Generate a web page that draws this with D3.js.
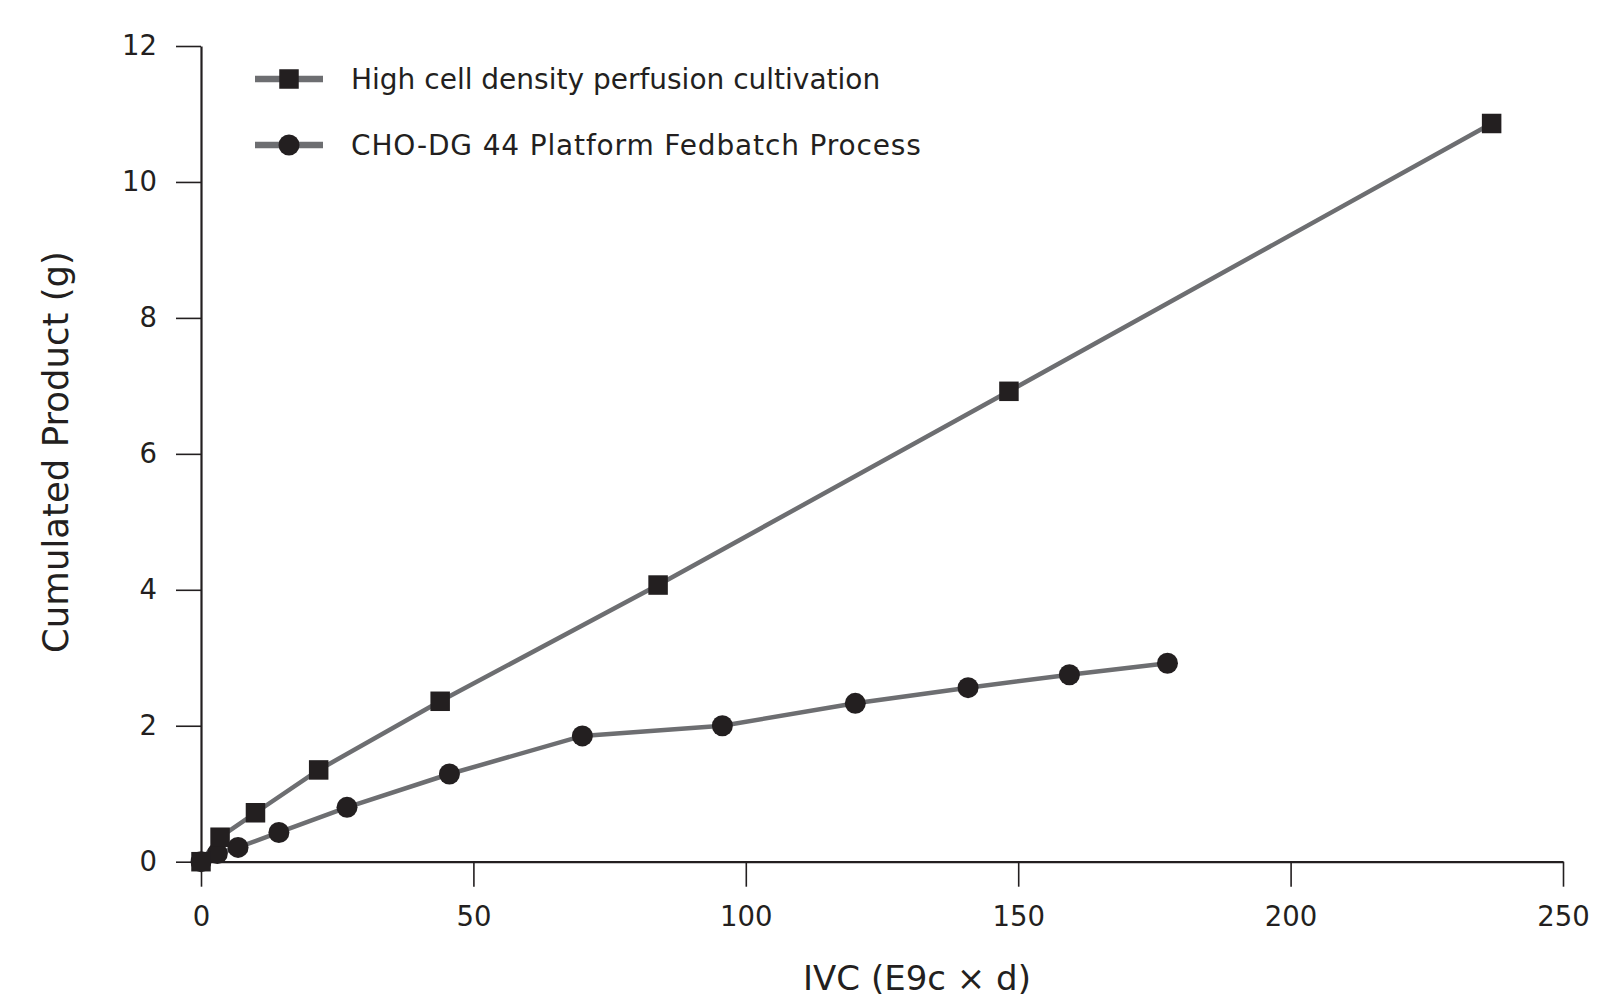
<!DOCTYPE html>
<html>
<head>
<meta charset="utf-8">
<script src="https://cdn.jsdelivr.net/npm/d3@7"></script>
<style>
html,body{margin:0;padding:0;background:#fff;}
svg{display:block;}
text{font-family:"DejaVu Sans","Open Sans",sans-serif;fill:#231f20;}
</style>
</head>
<body>
<svg id="chart" width="1601" height="1001"></svg>
<script>
// ---- data ----
const perfusionX = [0, 3.5, 10, 21.6, 43.9, 83.9, 148.3, 236.9];
const perfusionY = [0, 0.36, 0.72, 1.35, 2.36, 4.07, 6.92, 10.86];
const fedbatchX = [0, 3.0, 6.8, 14.3, 26.8, 45.6, 70.0, 95.7, 120.1, 140.8, 159.4, 177.4];
const fedbatchY = [0, 0.12, 0.21, 0.43, 0.80, 1.29, 1.85, 2.00, 2.33, 2.56, 2.75, 2.92];
const xTicks = [0, 50, 100, 150, 200, 250];
const yTicks = [0, 2, 4, 6, 8, 10, 12];
const seriesNames = ["High cell density perfusion cultivation", "CHO-DG 44 Platform Fedbatch Process"];
const xTitle = "IVC (E9c × d)";
const yTitle = "Cumulated Product (g)";

const svg = d3.select("#chart");
const dark = "#231f20", lineGray = "#6d6e71";
const FONT = "'DejaVu Sans', 'Open Sans', sans-serif";

const x = d3.scaleLinear().domain([0, 250]).range([201, 1563]);
const y = d3.scaleLinear().domain([0, 12]).range([861.7, 46]);

// axes
const xAxis = d3.axisBottom(x).tickValues(xTicks).tickSize(25).tickPadding(20).tickSizeOuter(0);
const yAxis = d3.axisLeft(y).tickValues(yTicks).tickSize(25).tickPadding(19).tickSizeOuter(0);

const gx = svg.append("g").attr("transform", `translate(0,${y(0)})`).call(xAxis);
const gy = svg.append("g").attr("transform", `translate(${x(0)},0)`).call(yAxis);
[gx, gy].forEach(g => {
  g.select(".domain").attr("stroke", dark).attr("stroke-width", 2.2);
  g.selectAll(".tick line").attr("stroke", dark).attr("stroke-width", 1.6);
  g.selectAll(".tick text").attr("font-size", 27.5).attr("fill", dark)
    .style("font-family", FONT);
});
gx.selectAll(".tick text").attr("dy", "0.71em");

// titles
svg.append("text").attr("x", 917).attr("y", 990).attr("text-anchor", "middle")
  .attr("font-size", 34).text(xTitle);
svg.append("text").attr("transform", "translate(68,452) rotate(-90)").attr("text-anchor", "middle")
  .attr("font-size", 35.5).text(yTitle);

const line = d3.line().x(d => x(d[0])).y(d => y(d[1]));
const perf = perfusionX.map((v, i) => [v, perfusionY[i]]);
const fed = fedbatchX.map((v, i) => [v, fedbatchY[i]]);

svg.append("path").datum(fed).attr("d", line).attr("fill", "none")
  .attr("stroke", lineGray).attr("stroke-width", 4.5);
svg.append("path").datum(perf).attr("d", line).attr("fill", "none")
  .attr("stroke", lineGray).attr("stroke-width", 4.5);
svg.selectAll("circle.fed").data(fed).enter().append("circle").attr("class", "fed")
  .attr("cx", d => x(d[0])).attr("cy", d => y(d[1])).attr("r", 10.5).attr("fill", dark);
const sq = 19.5;
svg.selectAll("rect.perf").data(perf).enter().append("rect").attr("class", "perf")
  .attr("x", d => x(d[0]) - sq / 2).attr("y", d => y(d[1]) - sq / 2)
  .attr("width", sq).attr("height", sq).attr("fill", dark);

// legend
const legY = [79, 145];
const legSpacing = [0, 0.85];
const leg = svg.append("g");
legY.forEach((ly, i) => {
  leg.append("line").attr("x1", 255).attr("x2", 323).attr("y1", ly).attr("y2", ly)
    .attr("stroke", lineGray).attr("stroke-width", 6.5);
  if (i === 0) {
    leg.append("rect").attr("x", 289 - sq / 2).attr("y", ly - sq / 2).attr("width", sq).attr("height", sq).attr("fill", dark);
  } else {
    leg.append("circle").attr("cx", 289).attr("cy", ly).attr("r", 10.5).attr("fill", dark);
  }
  leg.append("text").attr("x", 351).attr("y", ly).attr("dy", "0.36em")
    .attr("font-size", 28).attr("letter-spacing", legSpacing[i]).text(seriesNames[i]);
});
</script>
</body>
</html>
